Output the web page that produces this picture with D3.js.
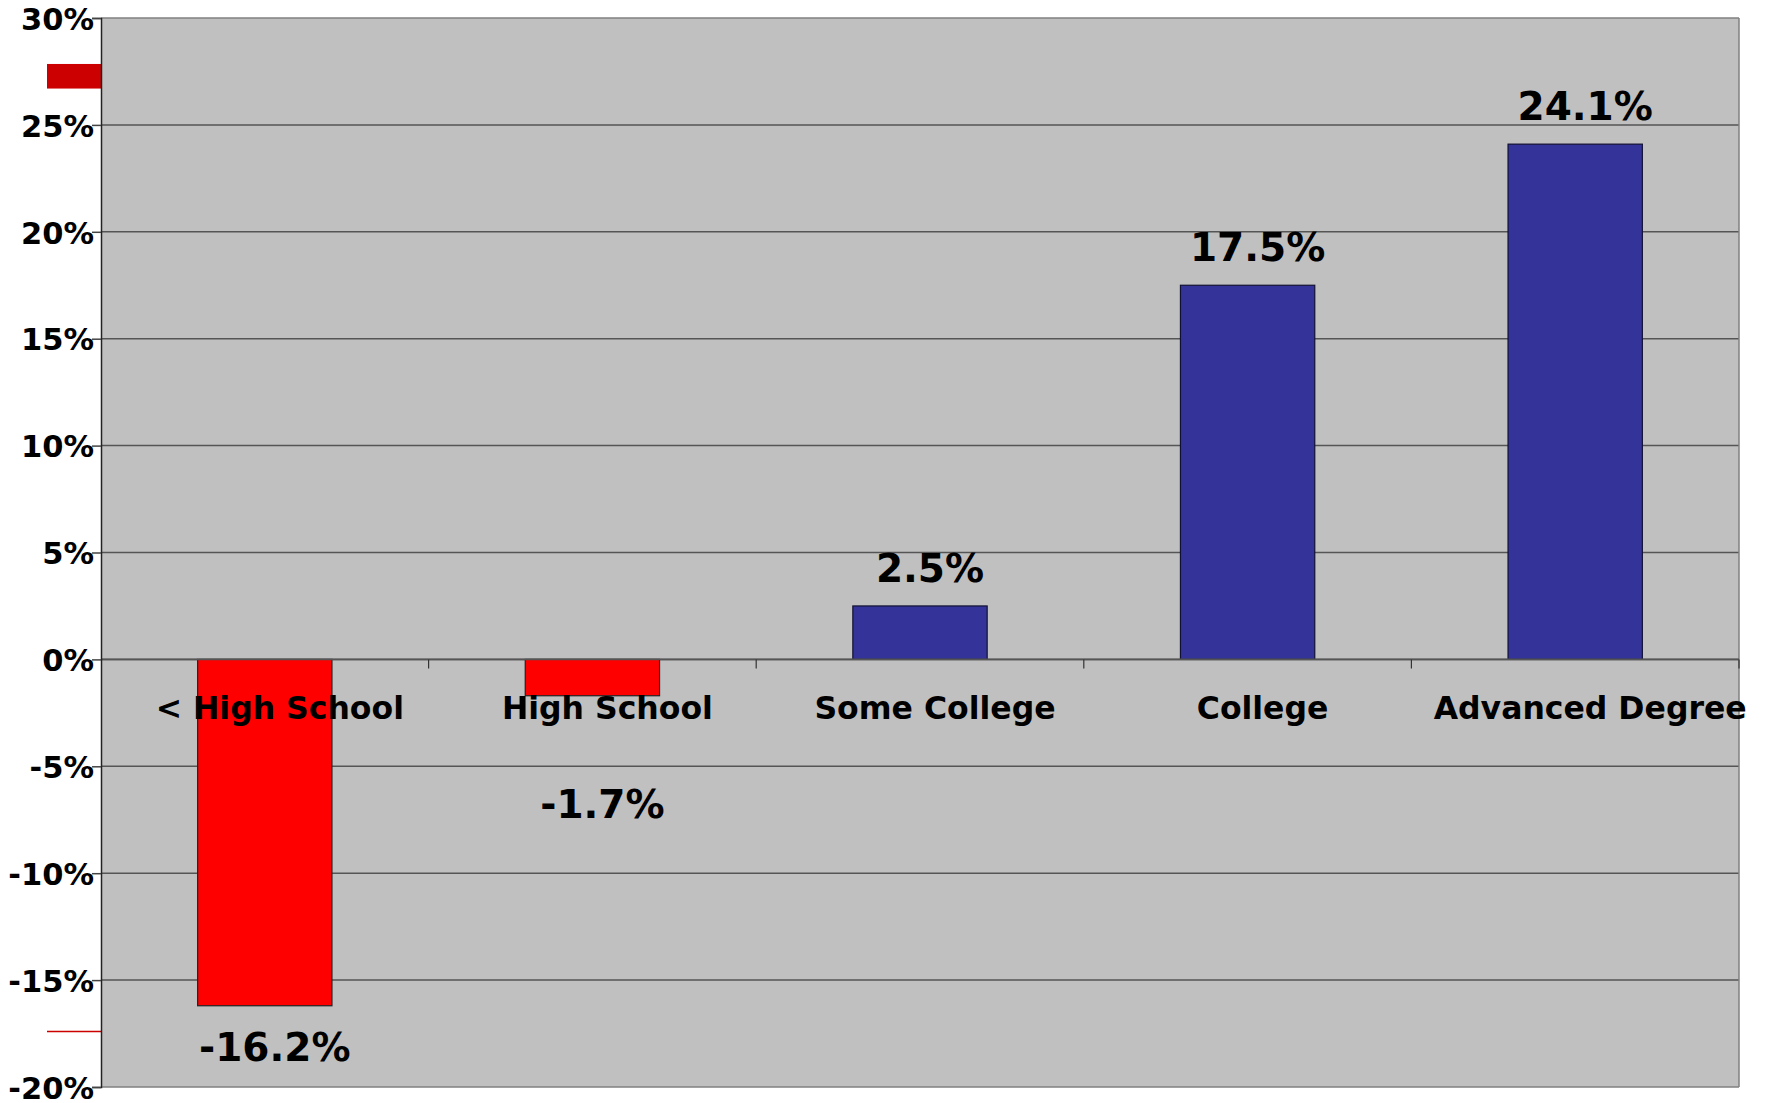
<!DOCTYPE html>
<html>
<head>
<meta charset="utf-8">
<script src="https://cdn.jsdelivr.net/npm/d3@7"></script>
<style>
  html, body { margin: 0; padding: 0; background: #ffffff; }
  svg { display: block; }
  text { font-family: "DejaVu Sans", sans-serif; font-weight: bold; fill: #000; }
</style>
</head>
<body>
<svg id="chart" width="1775" height="1103"></svg>
<script>
const categories = ["< High School", "High School", "Some College", "College", "Advanced Degree"];
const values = [-16.2, -1.7, 2.5, 17.5, 24.1];
const valueLabels = ["-16.2%", "-1.7%", "2.5%", "17.5%", "24.1%"];
const yTicks = [30, 25, 20, 15, 10, 5, 0, -5, -10, -15, -20];
const yTickLabels = ["30%", "25%", "20%", "15%", "10%", "5%", "0%", "-5%", "-10%", "-15%", "-20%"];

const W = 1775, H = 1103;
const m = { left: 101, right: 1739, top: 18, bottom: 1087 };

const svg = d3.select("#chart");

const x = d3.scaleBand().domain(categories).range([m.left, m.right]).padding(0);
const y = d3.scaleLinear().domain([-20, 30]).range([m.bottom, m.top]);

// plot background
svg.append("rect")
  .attr("x", m.left).attr("y", m.top)
  .attr("width", m.right - m.left).attr("height", m.bottom - m.top)
  .attr("fill", "#c0c0c0");

// gridlines
svg.append("g").selectAll("line").data(yTicks.filter(d => d !== 30 && d !== -20)).join("line")
  .attr("x1", m.left).attr("x2", m.right)
  .attr("y1", d => y(d)).attr("y2", d => y(d))
  .attr("stroke", "#555").attr("stroke-width", 1.5);

// border top / right / bottom
svg.append("line").attr("x1", m.left).attr("x2", m.right).attr("y1", y(30)).attr("y2", y(30))
  .attr("stroke", "#808080").attr("stroke-width", 1.5);
svg.append("line").attr("x1", m.right).attr("x2", m.right).attr("y1", m.top).attr("y2", m.bottom)
  .attr("stroke", "#808080").attr("stroke-width", 1.5);
svg.append("line").attr("x1", m.left).attr("x2", m.right).attr("y1", y(-20)).attr("y2", y(-20))
  .attr("stroke", "#808080").attr("stroke-width", 1.5);

// decorative red markers at left
svg.append("rect")
  .attr("x", 47).attr("width", m.left - 47)
  .attr("y", y(27.85)).attr("height", y(26.7) - y(27.85))
  .attr("fill", "#cc0000");
svg.append("line")
  .attr("x1", 47).attr("x2", m.left)
  .attr("y1", y(-17.4)).attr("y2", y(-17.4))
  .attr("stroke", "#cc0000").attr("stroke-width", 1.5);

// bars
const bw = x.bandwidth() * 0.41;
svg.append("g").selectAll("rect").data(values).join("rect")
  .attr("x", (d, i) => x(categories[i]) + x.bandwidth() / 2 - bw / 2)
  .attr("width", bw)
  .attr("y", d => y(Math.max(0, d)))
  .attr("height", d => Math.abs(y(d) - y(0)))
  .attr("fill", d => d < 0 ? "#ff0000" : "#333399")
  .attr("stroke", d => d < 0 ? "#222" : "#111133")
  .attr("stroke-width", 1.2);

// zero line
svg.append("line").attr("x1", m.left).attr("x2", m.right).attr("y1", y(0)).attr("y2", y(0))
  .attr("stroke", "#555").attr("stroke-width", 1.8);

// category ticks at band boundaries
const bounds = categories.slice(1).map(c => x(c)).concat([m.right]);
svg.append("g").selectAll("line").data(bounds).join("line")
  .attr("x1", d => d).attr("x2", d => d)
  .attr("y1", y(0)).attr("y2", y(0) + 9)
  .attr("stroke", "#333").attr("stroke-width", 1.2);

// y axis
const yAxis = d3.axisLeft(y).tickValues(yTicks).tickSize(9).tickPadding(0)
  .tickFormat((d, i) => yTickLabels[i]);
const ga = svg.append("g").attr("transform", `translate(${m.left},0)`).call(yAxis);
ga.select(".domain").attr("stroke", "#222").attr("stroke-width", 1.5);
ga.selectAll(".tick line").attr("stroke", "#444").attr("stroke-width", 1.5);
ga.selectAll(".tick text")
  .attr("x", -7).attr("dy", "0.37em")
  .style("font-family", "'DejaVu Sans', sans-serif")
  .style("font-weight", "bold")
  .style("font-size", "30.5px")
  .attr("fill", "#000");

// category labels
const catY = y(0) + 60;
svg.append("g").selectAll("text").data(categories).join("text")
  .attr("x", d => x(d) + x.bandwidth() / 2 + 15)
  .attr("y", catY)
  .attr("text-anchor", "middle")
  .style("font-size", "31.5px")
  .text(d => d);

// value labels
svg.append("g").selectAll("text").data(values).join("text")
  .attr("x", (d, i) => x(categories[i]) + x.bandwidth() / 2 + 10)
  .attr("y", d => d >= 0 ? y(d) - 24 : Math.max(y(d) + 55, catY + 99))
  .attr("text-anchor", "middle")
  .style("font-size", "39px")
  .text((d, i) => valueLabels[i]);
</script>
</body>
</html>
